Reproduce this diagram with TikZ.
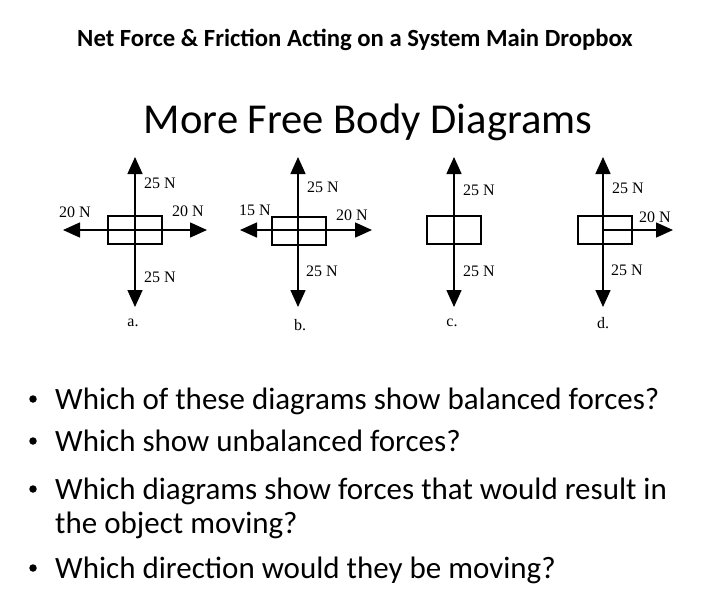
\documentclass[tikz,border=0pt]{standalone}
\usepackage{fontspec}
\setmainfont{Carlito}
\newfontfamily\forcefont{Liberation Serif}
\usetikzlibrary{arrows.meta}

\begin{document}
\begin{tikzpicture}[x=1pt, y=-1pt,
	force/.style={line width=1.5pt, -{Triangle[length=17pt, width=15pt]}},
	body/.style={draw, line width=1.4pt, minimum width=54pt, minimum height=28pt, inner sep=0pt},
	mag/.style={font=\forcefont\fontsize{16}{16}\selectfont, inner sep=0pt},
	tag/.style={font=\forcefont\fontsize{16}{16}\selectfont, inner sep=0pt},
	ask/.style={anchor=base west, font=\fontsize{31}{31}\selectfont, inner sep=0pt},
	dot/.style={circle, fill, minimum size=7.5pt, inner sep=0pt}]
	\useasboundingbox (0, 0) rectangle (719, 590);

	\node[font=\bfseries\fontsize{24.7}{24.7}\selectfont] (title) at (355, 40) {Net Force \& Friction Acting on a System Main Dropbox};
	\node[font=\fontsize{42.6}{42.6}\selectfont] (head) at (368, 122) {More Free Body Diagrams};

	% a.
	\node[body] (boxA) at (135, 230) {};
	\coordinate (aUp) at (135, 157);
	\coordinate (aDown) at (135, 307);
	\coordinate (aLeft) at (63, 230);
	\coordinate (aRight) at (207, 230);
	\draw[force] (boxA.center) -- (aUp);
	\draw[force] (boxA.center) -- (aDown);
	\draw[force] (boxA.center) -- (aLeft);
	\draw[force] (boxA.center) -- (aRight);
	\node[mag] (aUpTxt) at (160, 183) {25 N};
	\node[mag] (aDownTxt) at (160, 277) {25 N};
	\node[mag] (aLeftTxt) at (75, 212) {20 N};
	\node[mag] (aRightTxt) at (188, 211) {20 N};
	\node[tag] (aTag) at (133, 323) {a.};

	% b.
	\node[body] (boxB) at (299, 231) {};
	\coordinate (bMid) at (298, 230);
	\coordinate (bUp) at (298, 157);
	\coordinate (bDown) at (298, 307);
	\coordinate (bLeft) at (240, 230);
	\coordinate (bRight) at (372, 230);
	\draw[force] (bMid) -- (bUp);
	\draw[force] (bMid) -- (bDown);
	\draw[force] (bMid) -- (bLeft);
	\draw[force] (bMid) -- (bRight);
	\node[mag] (bUpTxt) at (323, 187) {25 N};
	\node[mag] (bDownTxt) at (322, 271) {25 N};
	\node[mag] (bLeftTxt) at (255, 210) {15 N};
	\node[mag] (bRightTxt) at (352, 215) {20 N};
	\node[tag] (bTag) at (300, 325) {b.};

	% c.
	\node[body] (boxC) at (454, 230) {};
	\coordinate (cUp) at (454, 157);
	\coordinate (cDown) at (454, 307);
	\draw[force] (boxC.center) -- (cUp);
	\draw[force] (boxC.center) -- (cDown);
	\node[mag] (cUpTxt) at (479, 190) {25 N};
	\node[mag] (cDownTxt) at (479, 271) {25 N};
	\node[tag] (cTag) at (452, 323) {c.};

	% d.
	\node[body] (boxD) at (605, 230) {};
	\coordinate (dMid) at (603, 230);
	\coordinate (dUp) at (603, 157);
	\coordinate (dDown) at (603, 307);
	\coordinate (dRight) at (673, 230);
	\draw[force] (dMid) -- (dUp);
	\draw[force] (dMid) -- (dDown);
	\draw[force] (dMid) -- (dRight);
	\node[mag] (dUpTxt) at (628, 188) {25 N};
	\node[mag] (dDownTxt) at (627, 270) {25 N};
	\node[mag] (dRightTxt) at (655, 217) {20 N};
	\node[tag] (dTag) at (603, 323) {d.};

	% questions
	\node[dot] (dot1) at (33, 399) {};
	\node[ask] (q1) at (55, 409) {Which of these diagrams show balanced forces?};
	\node[dot] (dot2) at (33, 441) {};
	\node[ask] (q2) at (55, 451) {Which show unbalanced forces?};
	\node[dot] (dot3) at (33, 489) {};
	\node[ask] (q3) at (55, 499) {Which diagrams show forces that would result in};
	\node[ask] (q3b) at (55, 533) {the object moving?};
	\node[dot] (dot4) at (33, 568) {};
	\node[ask] (q4) at (55, 578) {Which direction would they be moving?};
\end{tikzpicture}
\end{document}
